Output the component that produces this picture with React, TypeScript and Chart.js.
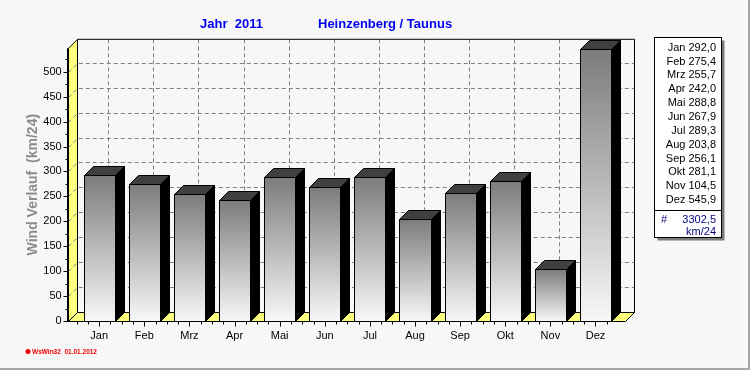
import React, { useEffect, useRef } from "react";
import { Chart, registerables } from "chart.js";

Chart.register(...registerables);

// ---- data ----
const months = ["Jan", "Feb", "Mrz", "Apr", "Mai", "Jun", "Jul", "Aug", "Sep", "Okt", "Nov", "Dez"];
const windValues = [292.0, 275.4, 255.7, 242.0, 288.8, 267.9, 289.3, 203.8, 256.1, 281.1, 104.5, 545.9];
const yTickValues = [0, 50, 100, 150, 200, 250, 300, 350, 400, 450, 500];
const yMax = 547;
const titleLeft = "Jahr  2011";
const titleRight = "Heinzenberg / Taunus";
const yAxisTitle = "Wind Verlauf  (km/24)";
const unitLabel = "km/24";
const footerText = "WsWin32  01.01.2012";

const FONT = "Arial, 'Liberation Sans', sans-serif";
const DX = 9;
const DY = -9;

const fmt = (v: number) => v.toFixed(1).replace(".", ",");

const threeDPlugin = {
  id: "threeD",
  beforeDatasetsDraw(chart: any) {
    const ctx = chart.ctx;
    const ca = chart.chartArea;
    const xs = chart.scales.x;
    const ys = chart.scales.y;
    const L = Math.round(ca.left - 9) + 0.5;
    const R = Math.round(ca.right + 7) + 0.5;
    const T = ca.top;
    const B = Math.round(ca.bottom) + 0.5;
    ctx.save();
    // floor
    ctx.fillStyle = "#ffff80";
    ctx.beginPath();
    ctx.moveTo(L, B);
    ctx.lineTo(L + DX, B + DY);
    ctx.lineTo(R + DX, B + DY);
    ctx.lineTo(R, B);
    ctx.closePath();
    ctx.fill();
    // left wall
    ctx.beginPath();
    ctx.moveTo(L, T);
    ctx.lineTo(L + DX, T + DY);
    ctx.lineTo(L + DX, B + DY);
    ctx.lineTo(L, B);
    ctx.closePath();
    ctx.fill();

    // dashed grid
    ctx.strokeStyle = "#808080";
    ctx.lineWidth = 1;
    ctx.setLineDash([4, 3]);
    yTickValues.forEach((v) => {
      if (v === 0) return;
      const y = Math.round(ys.getPixelForValue(v)) + 0.5;
      ctx.beginPath();
      ctx.moveTo(L, y);
      ctx.lineTo(L + DX, y + DY);
      ctx.lineTo(R + DX, y + DY);
      ctx.stroke();
    });
    months.forEach((_, i) => {
      const x = Math.round(xs.getPixelForValue(i) + DX) + 0.5;
      ctx.beginPath();
      ctx.moveTo(x, T + DY);
      ctx.lineTo(x, B + DY);
      ctx.stroke();
    });
    ctx.setLineDash([]);

    // outlines
    ctx.strokeStyle = "#000";
    ctx.lineWidth = 1;
    ctx.beginPath();
    ctx.moveTo(L, T);
    ctx.lineTo(L + DX, T + DY);
    ctx.lineTo(R + DX, T + DY);
    ctx.lineTo(R + DX, B + DY);
    ctx.lineTo(R, B);
    ctx.stroke();
    ctx.beginPath();
    ctx.moveTo(L + DX, T + DY);
    ctx.lineTo(L + DX, B + DY);
    ctx.lineTo(R + DX, B + DY);
    ctx.stroke();
    ctx.beginPath();
    ctx.moveTo(L, B);
    ctx.lineTo(L + DX, B + DY);
    ctx.stroke();

    // y axis line
    ctx.lineWidth = 2;
    ctx.beginPath();
    ctx.moveTo(L - 0.5, T);
    ctx.lineTo(L - 0.5, B + 0.5);
    ctx.stroke();
    ctx.lineWidth = 1;
    // y ticks
    for (let v = 0; v <= 525; v += 25) {
      const y = Math.round(ys.getPixelForValue(v)) + 0.5;
      const len = v % 50 === 0 ? 5 : 3;
      ctx.beginPath();
      ctx.moveTo(L - len, y);
      ctx.lineTo(L, y);
      ctx.stroke();
    }
    // x axis line
    ctx.beginPath();
    ctx.moveTo(L, B);
    ctx.lineTo(R, B);
    ctx.stroke();
    // x ticks
    const step = (xs.getPixelForValue(1) - xs.getPixelForValue(0)) / 4;
    months.forEach((_, i) => {
      const c = xs.getPixelForValue(i);
      for (let k = -2; k <= 1; k++) {
        const x = Math.round(c + k * step) + 0.5;
        const len = k === 0 ? 5 : 3;
        ctx.beginPath();
        ctx.moveTo(x, B);
        ctx.lineTo(x, B + len);
        ctx.stroke();
      }
    });
    ctx.restore();
  },
  afterDatasetsDraw(chart: any) {
    const ctx = chart.ctx;
    const meta = chart.getDatasetMeta(0);
    ctx.save();
    ctx.lineWidth = 1;
    ctx.strokeStyle = "#000";
    meta.data.forEach((bar: any) => {
      const x0 = Math.round(bar.x - bar.width / 2) + 0.5;
      const x1 = Math.round(bar.x + bar.width / 2) + 0.5;
      const y = Math.round(bar.y) + 0.5;
      const base = Math.round(bar.base) + 0.5;
      // side
      ctx.fillStyle = "#000";
      ctx.beginPath();
      ctx.moveTo(x1, y);
      ctx.lineTo(x1 + DX, y + DY);
      ctx.lineTo(x1 + DX, base + DY);
      ctx.lineTo(x1, base);
      ctx.closePath();
      ctx.fill();
      ctx.stroke();
      // top
      ctx.fillStyle = "#404040";
      ctx.beginPath();
      ctx.moveTo(x0, y);
      ctx.lineTo(x0 + DX, y + DY);
      ctx.lineTo(x1 + DX, y + DY);
      ctx.lineTo(x1, y);
      ctx.closePath();
      ctx.fill();
      ctx.stroke();
      // front
      const g = ctx.createLinearGradient(0, y, 0, base);
      g.addColorStop(0, "#7c7c7c");
      g.addColorStop(1, "#f8f8f8");
      ctx.fillStyle = g;
      ctx.fillRect(x0, y, x1 - x0, base - y);
      ctx.strokeRect(x0, y, x1 - x0, base - y);
    });
    ctx.restore();
  },
  afterDraw(chart: any) {
    const ctx = chart.ctx;
    const ca = chart.chartArea;
    ctx.save();
    // titles
    ctx.fillStyle = "#0000f0";
    ctx.font = `bold 13px ${FONT}`;
    ctx.textBaseline = "middle";
    ctx.textAlign = "left";
    ctx.fillText(titleLeft, 200, 24);
    ctx.fillText(titleRight, 318, 24);

    // y title
    ctx.save();
    ctx.translate(33, (ca.top + ca.bottom) / 2 + 0);
    ctx.rotate(-Math.PI / 2);
    ctx.fillStyle = "#8c8c8c";
    ctx.font = `bold 14px ${FONT}`;
    ctx.textAlign = "center";
    ctx.textBaseline = "middle";
    ctx.fillText(yAxisTitle, 0, 0);
    ctx.restore();

    // legend box
    const bx = 654.5, by = 37.5, bw = 67, bh = 200;
    ctx.fillStyle = "#7a7a7a";
    ctx.fillRect(bx + 3, by + 3, bw, bh);
    ctx.fillStyle = "#ffffff";
    ctx.fillRect(bx, by, bw, bh);
    ctx.strokeStyle = "#000";
    ctx.lineWidth = 1;
    ctx.strokeRect(bx, by, bw, bh);
    ctx.beginPath();
    ctx.moveTo(bx, 210.5);
    ctx.lineTo(bx + bw, 210.5);
    ctx.stroke();
    ctx.font = `11px ${FONT}`;
    ctx.textAlign = "right";
    ctx.textBaseline = "middle";
    ctx.fillStyle = "#000";
    months.forEach((m, i) => {
      ctx.fillText(`${m} ${fmt(windValues[i])}`, 716, 47.7 + i * 13.85);
    });
    const total = windValues.reduce((a, b) => a + b, 0);
    ctx.fillStyle = "#000080";
    ctx.fillText(fmt(total), 716, 220);
    ctx.fillText(unitLabel, 716, 232);
    ctx.textAlign = "left";
    ctx.fillText("#", 661, 220);

    // footer
    ctx.fillStyle = "#ee0000";
    ctx.beginPath();
    ctx.arc(28, 351.5, 2.5, 0, Math.PI * 2);
    ctx.fill();
    ctx.font = `bold 6.5px ${FONT}`;
    ctx.textAlign = "left";
    ctx.textBaseline = "middle";
    ctx.fillText(footerText, 32, 352);

    // frame
    ctx.fillStyle = "#a8a8a0";
    ctx.fillRect(0, 368, 750, 2);
    ctx.fillRect(748, 0, 2, 370);
    ctx.restore();
  },
};

const bgPlugin = {
  id: "bg",
  beforeDraw(chart: any) {
    const ctx = chart.ctx;
    ctx.save();
    ctx.fillStyle = "#f7f7f7";
    ctx.fillRect(0, 0, chart.width, chart.height);
    ctx.restore();
  },
};

export default function App() {
  const ref = useRef<HTMLCanvasElement | null>(null);
  useEffect(() => {
    document.body.style.margin = "0";
    const canvas = ref.current;
    if (!canvas) return;
    const chart = new Chart(canvas, {
      type: "bar",
      data: {
        labels: months,
        datasets: [
          {
            data: windValues,
            backgroundColor: "rgba(0,0,0,0)",
            borderWidth: 0,
            barPercentage: 0.69,
            categoryPercentage: 1,
          },
        ],
      },
      options: {
        responsive: false,
        devicePixelRatio: 1,
        animation: false,
        events: [],
        layout: { padding: { top: 48.3, right: 131.95, bottom: 0, left: 0 } },
        plugins: { legend: { display: false }, tooltip: { enabled: false }, title: { display: false } },
        scales: {
          x: {
            type: "category",
            grid: { display: false, drawTicks: false },
            border: { display: false },
            ticks: { color: "#000", font: { family: FONT, size: 11 }, padding: 8, maxRotation: 0, autoSkip: false },
            afterFit: (s: any) => {
              s.height = 49;
            },
          },
          y: {
            type: "linear",
            min: 0,
            max: yMax,
            grid: { display: false, drawTicks: false },
            border: { display: false },
            afterBuildTicks: (s: any) => {
              s.ticks = yTickValues.map((v) => ({ value: v }));
            },
            ticks: { color: "#000", font: { family: FONT, size: 11 }, padding: 15, includeBounds: false },
            afterFit: (s: any) => {
              s.width = 76.65;
            },
          },
        },
      },
      plugins: [bgPlugin, threeDPlugin],
    });
    return () => chart.destroy();
  }, []);
  return (
    <div style={{ width: 750, height: 370 }}>
      <canvas ref={ref} width={750} height={370} style={{ display: "block" }} />
    </div>
  );
}
